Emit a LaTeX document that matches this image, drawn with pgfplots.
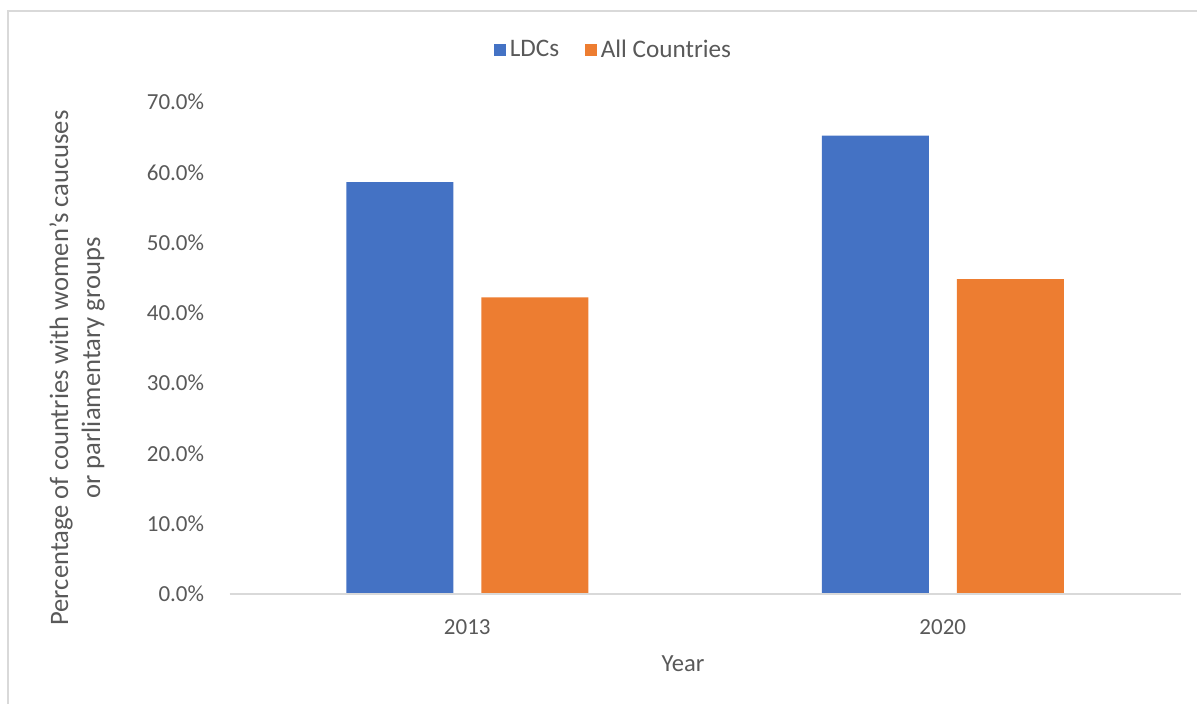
\documentclass[border=0pt]{standalone}
\usepackage{fontspec}
\setmainfont{Carlito}
\usepackage{pgfplots}
\pgfplotsset{compat=1.18}
\definecolor{bl}{HTML}{4472C4}
\definecolor{orr}{HTML}{ED7D31}
\definecolor{tx}{HTML}{595959}
\definecolor{ln}{HTML}{D9D9D9}
\begin{document}
\begin{tikzpicture}[x=0.5pt,y=-0.5pt]
\path[use as bounding box] (0,0) rectangle (1197,704);
\draw[ln, line width=1.2pt] (8,704) -- (8,11) -- (1197,11);
\coordinate (O) at (229.5,594);
\begin{axis}[
  at={(O)}, anchor=south west,
  width=475.5pt, height=246pt, scale only axis,
  xmin=-0.5, xmax=1.5, ymin=0, ymax=70,
  axis line style={draw=none},
  major tick length=0pt,
  xtick={0,1}, xticklabels={2013,2020},
  ytick={0,10,...,70},
  yticklabel={\pgfmathprintnumber[fixed,fixed zerofill,precision=1]{\tick}\%},
  /pgf/number format/assume math mode=true,
  tick label style={font=\fontsize{11.5}{13}\selectfont, text=tx},
  y tick label style={anchor=east, inner sep=0pt, xshift=-12.5pt},
  x tick label style={anchor=center, inner sep=0pt, yshift=-16.5pt},
  ybar, bar width=53.5pt,
  legend columns=2,
  legend style={draw=none, fill=none, at={(0.405,1.0)}, anchor=center,
    yshift=26pt, font=\fontsize{12.6}{14}\selectfont, text=tx,
    /tikz/every even column/.append style={column sep=11pt}},
  legend image code/.code={\fill[#1] (0pt,-2.9pt) rectangle (5.8pt,2.9pt);},
  clip=false,
]
\addplot[fill=bl, draw=none, bar shift=-33.75pt] coordinates {(0,58.6) (1,65.2)};
\addplot[fill=orr, draw=none, bar shift=33.75pt] coordinates {(0,42.2) (1,44.8)};
\legend{LDCs, All Countries}
\draw[ln, line width=1pt] (axis cs:-0.5,0) -- (axis cs:1.5,0);
\end{axis}
\node[text=tx, font=\fontsize{12.3}{14}\selectfont] at (683,664) {Year};
\node[text=tx, font=\fontsize{13.3}{16}\selectfont, rotate=90, align=center] at (77,368)
  {Percentage of countries with women’s caucuses\\or parliamentary groups};
\end{tikzpicture}
\end{document}
